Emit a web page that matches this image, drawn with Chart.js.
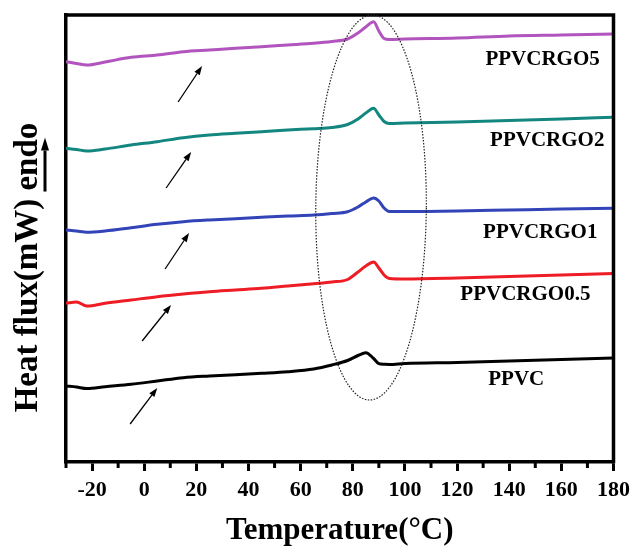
<!DOCTYPE html>
<html>
<head>
<meta charset="utf-8">
<script src="https://cdn.jsdelivr.net/npm/chart.js@4/dist/chart.umd.min.js"></script>
<style>
html,body{margin:0;padding:0;background:#fff;}
#wrap{width:636px;height:548px;}
</style>
</head>
<body>
<div id="wrap"><canvas id="c" width="636" height="548"></canvas></div>
<script>
// Temperature samples (°C)
const temps = [-30,-26,-22,-15,-5,5,15,25,35,45,55,65,72,78,82,85,88,90,92,94,100,120,140,160,180];
// Heat flux (arbitrary units, curves stacked with offsets as in the figure)
const ppvc        = [76,75,73.5,75.3,77.7,81,84.3,86,87.3,88.7,90.3,93,97,101.5,106.5,109.3,103.5,98.3,97.7,97.5,98.5,99.5,101,102.5,104];
const ppvcrgo05   = [158.7,160,156,158.7,162,165.3,168,170.3,172,173.7,176,178.3,180,182.5,190,196,200,194,187,183.5,183,184,185.5,187,188.5];
const ppvcrgo1    = [232,231,229.7,231,234.3,237.7,240.3,242,243.3,244.7,246,247,248.5,250.3,255,260,264,261,254,250.5,250.5,251,252,253,253.7];
const ppvcrgo2    = [313.7,312.5,311,313,317,320.3,324.3,327,328.7,330.3,332,333.3,334.5,337.5,343,349,353.7,347,340.5,338.5,339,340,341.5,343,344.7];
const ppvcrgo5    = [400.3,398.5,397,400,404.7,407,410.3,412,413.7,415.3,417,418.7,420.5,423,429,435,440.3,431,423.5,422.5,423,424,426,427,428];

const seriesNames = ['PPVC','PPVCRGO0.5','PPVCRGO1','PPVCRGO2','PPVCRGO5'];
const seriesData  = [ppvc, ppvcrgo05, ppvcrgo1, ppvcrgo2, ppvcrgo5];
const seriesColors = ['#000000','#ee1c24','#3344b8','#13877f','#b154bd'];

// Curve labels (temperature, heat-flux position)
const labelT = [142.7,146.2,151.9,154.6,152.8];
const labelV = [82.5,167.5,229.5,321,402];

// Annotation arrows [T, v] for tail and head
const arrowsTail = [[-5.4,38],[-0.8,121],[8.0,193],[8.4,274],[13.0,360]];
const arrowsHead = [[5.0,74],[10.3,157],[17.2,229],[18.0,310],[22.2,396]];

// Dotted ellipse marking the peaks: centre T, centre v, half-width (°C), half-height (units)
const ellipseSpec = [87.0, 254.5, 21.2, 192.5];

const xTickStep = 10;
const xMin = -30, xMax = 180;
const yMin = 0, yMax = 447;

const SERIF = '"Liberation Serif","Times New Roman",serif';

function drawArrow(ctx, x0, y0, x1, y1, lw, head, hw) {
  const ang = Math.atan2(y1 - y0, x1 - x0);
  const bx = x1 - head * Math.cos(ang), by = y1 - head * Math.sin(ang);
  ctx.beginPath();
  ctx.lineWidth = lw;
  ctx.moveTo(x0, y0);
  ctx.lineTo(bx, by);
  ctx.stroke();
  ctx.beginPath();
  ctx.moveTo(x1, y1);
  ctx.lineTo(bx + hw * Math.sin(ang), by - hw * Math.cos(ang));
  ctx.lineTo(bx - hw * Math.sin(ang), by + hw * Math.cos(ang));
  ctx.closePath();
  ctx.fill();
}

const decor = {
  id: 'decor',
  afterDraw(chart) {
    const ctx = chart.ctx;
    const xs = chart.scales.x, ys = chart.scales.y;
    const a = chart.chartArea;
    ctx.save();
    // frame top/right
    ctx.strokeStyle = '#000';
    ctx.lineWidth = 3.5;
    ctx.beginPath();
    ctx.moveTo(a.left - 1.5, a.top);
    ctx.lineTo(a.right, a.top);
    ctx.lineTo(a.right, a.bottom + 1.5);
    ctx.stroke();
    // minor ticks
    ctx.lineWidth = 3;
    xs.ticks.forEach(t => {
      if (t.value % 20 !== 0) {
        const px = xs.getPixelForValue(t.value);
        ctx.beginPath();
        ctx.moveTo(px, a.bottom);
        ctx.lineTo(px, a.bottom + 6);
        ctx.stroke();
      }
    });
    // ellipse
    const cx = xs.getPixelForValue(ellipseSpec[0]);
    const cy = ys.getPixelForValue(ellipseSpec[1]);
    const rx = xs.getPixelForValue(ellipseSpec[0] + ellipseSpec[2]) - cx;
    const ry = cy - ys.getPixelForValue(ellipseSpec[1] + ellipseSpec[3]);
    ctx.beginPath();
    ctx.setLineDash([1.5, 1.5]);
    ctx.lineWidth = 1.2;
    ctx.strokeStyle = '#222';
    ctx.ellipse(cx, cy, rx, ry, 0.008, 0, Math.PI * 2);
    ctx.stroke();
    ctx.setLineDash([]);
    // arrows
    ctx.strokeStyle = '#000';
    ctx.fillStyle = '#000';
    for (let i = 0; i < arrowsTail.length; i++) {
      drawArrow(ctx,
        xs.getPixelForValue(arrowsTail[i][0]), ys.getPixelForValue(arrowsTail[i][1]),
        xs.getPixelForValue(arrowsHead[i][0]), ys.getPixelForValue(arrowsHead[i][1]),
        1.3, 9, 3.2);
    }
    // curve labels
    ctx.font = 'bold 21px ' + SERIF;
    ctx.textAlign = 'center';
    ctx.textBaseline = 'middle';
    ctx.fillStyle = '#000';
    for (let i = 0; i < seriesNames.length; i++) {
      ctx.fillText(seriesNames[i], xs.getPixelForValue(labelT[i]), ys.getPixelForValue(labelV[i]));
    }
    // y-axis title with "endo" arrow
    const title = 'Heat flux(mW) endo';
    ctx.font = 'bold 33px ' + SERIF;
    ctx.textAlign = 'left';
    ctx.textBaseline = 'alphabetic';
    const W = ctx.measureText(title).width;
    const pre = ctx.measureText('Heat flux(mW) ').width;
    const endoW = ctx.measureText('endo').width;
    ctx.translate(37, 267.5);
    ctx.rotate(-Math.PI / 2);
    ctx.fillText(title, -W / 2, 0);
    const ax0 = -W / 2 + pre - 1;
    const ax1 = -W / 2 + pre + endoW * 0.78;
    drawArrow(ctx, ax0, 8, ax1, 8, 3, 13, 4);
    ctx.restore();
  }
};

const datasets = seriesData.map((arr, i) => ({
  label: seriesNames[i],
  data: temps.map((t, j) => ({x: t, y: arr[j]})),
  borderColor: seriesColors[i],
  backgroundColor: seriesColors[i],
  borderWidth: 3,
  pointRadius: 0,
  cubicInterpolationMode: 'monotone',
  fill: false
}));

new Chart(document.getElementById('c'), {
  type: 'line',
  data: { datasets },
  options: {
    responsive: false,
    animation: false,
    devicePixelRatio: 1,
    layout: { padding: { top: 15, right: 20, left: 0, bottom: 0 } },
    plugins: { legend: { display: false }, tooltip: { enabled: false } },
    scales: {
      x: {
        type: 'linear',
        min: xMin, max: xMax,
        border: { display: true, color: '#000', width: 3.5 },
        grid: {
          drawOnChartArea: false, drawTicks: true, tickLength: 9, tickWidth: 3,
          tickColor: c => (c.tick && c.tick.value % 20 === 0) ? '#000' : 'rgba(0,0,0,0)'
        },
        ticks: {
          stepSize: xTickStep, autoSkip: false, maxRotation: 0, padding: 6,
          color: '#000',
          font: { family: SERIF, size: 22, weight: 'bold' },
          callback: v => (v % 20 === 0 ? String(v) : '')
        },
        title: {
          display: true, text: 'Temperature(°C)', color: '#000',
          font: { family: SERIF, size: 31, weight: 'bold' },
          padding: { top: 0, bottom: -2 }
        },
        afterFit: s => { s.height = 86; }
      },
      y: {
        type: 'linear',
        min: yMin, max: yMax,
        border: { display: true, color: '#000', width: 3.5 },
        grid: { display: false },
        ticks: { display: false },
        afterFit: s => { s.width = 66; }
      }
    }
  },
  plugins: [decor]
});
</script>
</body>
</html>
